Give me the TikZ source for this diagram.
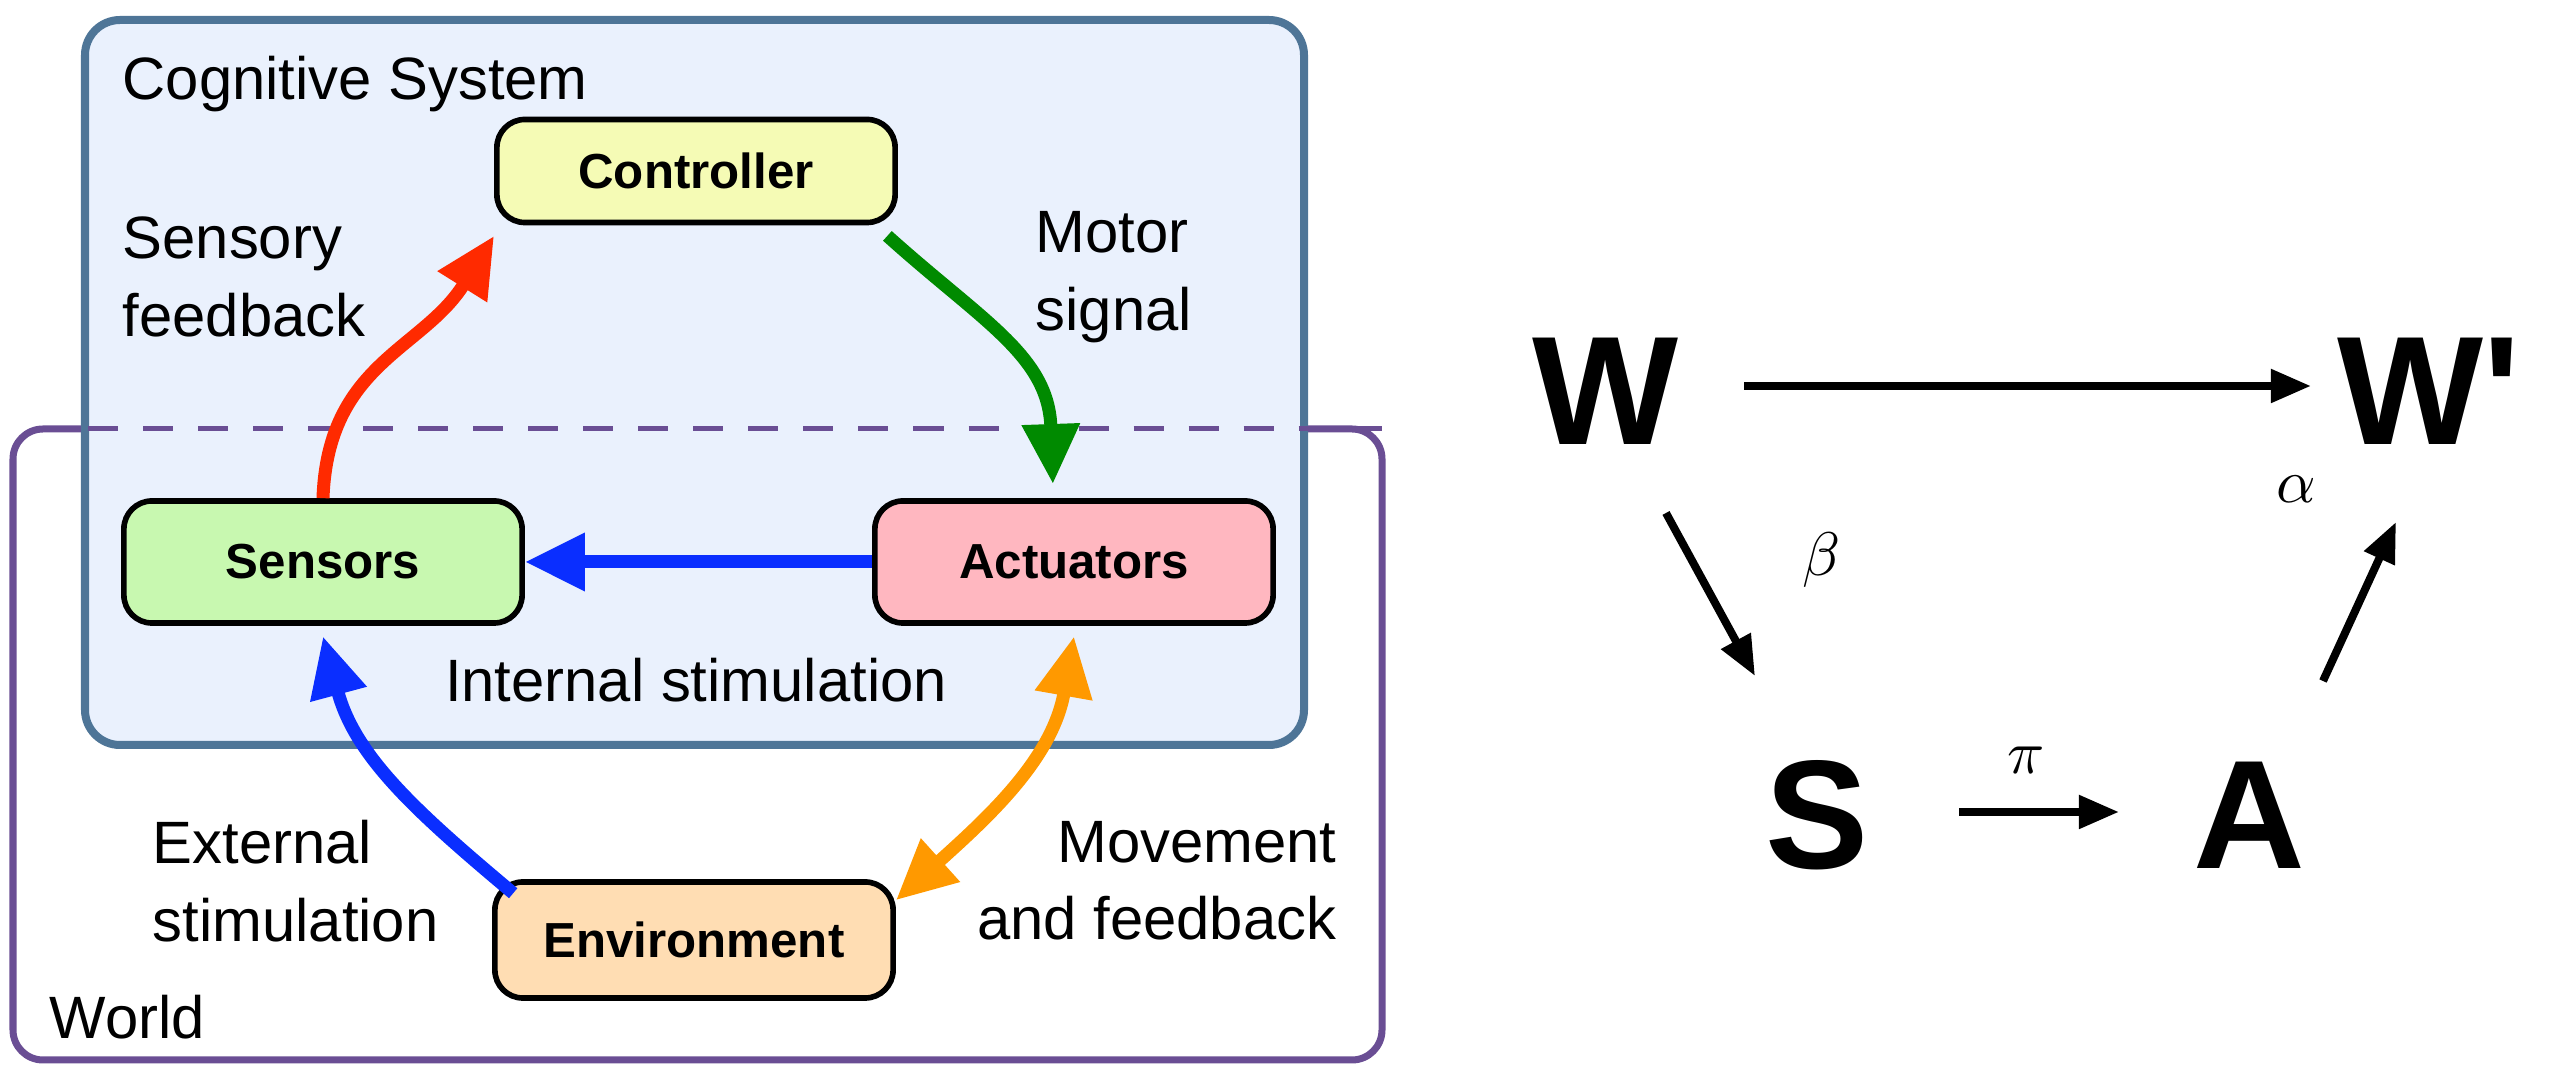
\documentclass[tikz,border=0pt]{standalone}
\usepackage{fontspec}
\setmainfont{Liberation Sans}
\usetikzlibrary{arrows.meta}
\definecolor{cogfill}{HTML}{EAF1FD}
\definecolor{cogline}{HTML}{4E7597}
\definecolor{worldline}{HTML}{6A4E94}
\definecolor{ctlfill}{HTML}{F5FBB5}
\definecolor{senfill}{HTML}{C8F8B0}
\definecolor{actfill}{HTML}{FFB7C0}
\definecolor{envfill}{HTML}{FFDDB3}
\definecolor{redA}{HTML}{FF2A00}
\definecolor{greenA}{HTML}{008A00}
\definecolor{blueA}{HTML}{0A2EFF}
\definecolor{orangeA}{HTML}{FF9900}
\tikzset{
  box/.style={draw=black,line width=1.6pt,rounded corners=0.28cm,minimum width=3.98cm,minimum height=1.1cm,font=\fontsize{14}{16}\selectfont\bfseries,inner sep=0pt},
  lab/.style={font=\fontsize{17}{22}\selectfont,inner sep=0pt},
  flow/.style={line width=0.13cm,-{Triangle[length=0.6cm,width=0.55cm]}},
  big/.style={font=\fontsize{44}{50}\selectfont\bfseries,inner sep=0pt},
  greek/.style={inner sep=0pt},
  thin/.style={line width=0.08cm,-{Triangle[length=0.4cm,width=0.32cm]}}
}
\newcommand{\gk}[1]{\scalebox{1.75}{$#1$}}
\begin{document}
\begin{tikzpicture}[x=0.01cm,y=-0.01cm]
\useasboundingbox (0,0) rectangle (2556,1080);
% world box
\draw[worldline,line width=0.07cm,rounded corners=0.3cm] (13,429) rectangle (1382,1060);
% cognitive box
\draw[cogline,fill=cogfill,line width=0.08cm,rounded corners=0.35cm] (85,20) rectangle (1304,745);
\draw[worldline,line width=0.05cm,dash pattern=on 0.3cm off 0.25cm] (88,429) -- (1382,429);
\node[lab,anchor=north west] (cs) at (122,55) {Cognitive System};
\node[lab,anchor=south west] (wl) at (49,1040) {World};
% nodes
\node[box,fill=ctlfill,minimum height=1.03cm] (ctl) at (696,171) {Controller};
\node[box,fill=senfill,minimum height=1.22cm] (sen) at (323,562) {Sensors};
\node[box,fill=actfill,minimum height=1.22cm] (act) at (1074,562) {Actuators};
\node[box,fill=envfill,minimum height=1.16cm] (env) at (694,940) {Environment};
% arrows
\draw[flow,redA] (sen.north) to[out=88,in=-122,looseness=1.1] ([yshift=-3pt]ctl.south west);
\draw[flow,greenA] ([xshift=-3pt,yshift=-3pt]ctl.south east) to[out=-42,in=92,looseness=1.1] ([xshift=-6pt,yshift=4pt]act.north);
\draw[flow,blueA] (act.west) -- (sen.east);
\draw[flow,blueA] ([xshift=6pt,yshift=-4pt]env.north west) to[out=140,in=-75] ([yshift=-3pt]sen.south);
\draw[line width=0.13cm,orangeA,{Triangle[length=0.6cm,width=0.55cm]}-{Triangle[length=0.6cm,width=0.55cm]}] ([yshift=-3pt]act.south) to[out=-100,in=42] ([yshift=-6pt]env.north east);
% labels
\node[lab,align=left,anchor=west] (sf) at (122,277) {Sensory\\feedback};
\node[lab,align=left,anchor=west] (ms) at (1035,277) {Motor\\signal};
\node[lab] (is) at (696,680) {Internal stimulation};
\node[lab,align=left,anchor=west] (es) at (152,881) {External\\stimulation};
\node[lab,align=right,anchor=east] (mf) at (1337,881) {Movement\\and feedback};
% right diagram
\node[big] (W) at (1606,391) {W};
\node[big] (W2) at (2429,391) {W\textquotesingle};
\node[big] (S) at (1817,815) {S};
\node[big] (A) at (2249,815) {A};
\coordinate (w1) at (1744,386); \coordinate (w2) at (2311,386);
\coordinate (b1) at (1666,513); \coordinate (b2) at (1755,676);
\coordinate (p1) at (1959,812); \coordinate (p2) at (2119,812);
\coordinate (a1) at (2323,681); \coordinate (a2) at (2396,522);
\draw[thin] (w1) -- (w2);
\draw[thin] (b1) -- (b2);
\draw[thin] (p1) -- (p2);
\draw[thin] (a1) -- (a2);
\node[greek] (be) at (1822,560) {\gk{\beta}};
\node[greek] (pi) at (2026,760) {\gk{\pi}};
\node[greek] (al) at (2296,489) {\gk{\alpha}};
\end{tikzpicture}
\end{document}
